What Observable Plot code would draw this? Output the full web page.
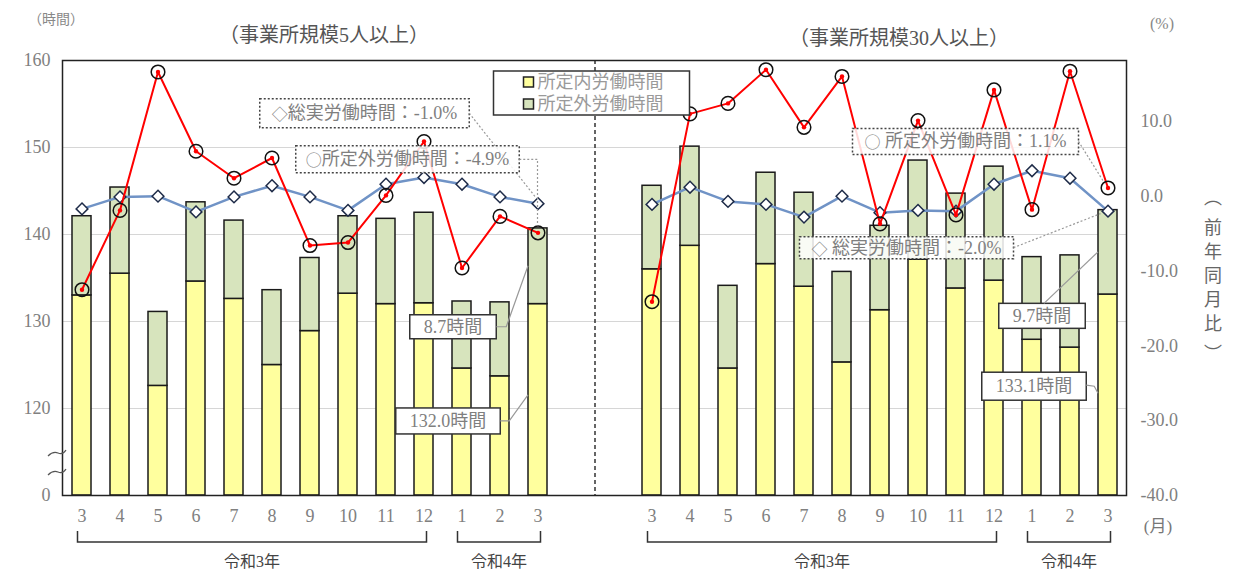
<!DOCTYPE html>
<html><head><meta charset="utf-8">
<script src="https://cdn.jsdelivr.net/npm/d3@7"></script>
<script src="https://cdn.jsdelivr.net/npm/@observablehq/plot@0.6"></script>
<style>
body{margin:0;background:#fff;}
#chart{position:relative;width:1234px;height:570px;}
</style></head><body><div id="chart"></div>
<script>
// ---------------- data ----------------
const months = ["3","4","5","6","7","8","9","10","11","12","1","2","3"];
// 事業所規模5人以上
const sched5 = [133.0,135.5,122.6,134.6,132.6,125.0,128.9,133.2,132.0,132.1,124.6,123.7,132.0];
const over5  = [9.1,9.9,8.5,9.1,9.0,8.6,8.4,8.9,9.8,10.4,7.7,8.5,8.7];
const totPct5  = [-1.7,-0.1,0.0,-2.1,-0.1,1.4,-0.1,-1.9,1.6,2.5,1.6,-0.1,-1.0];
const overPct5 = [-12.5,-1.9,16.6,6.0,2.4,5.1,-6.6,-6.2,0.1,7.3,-9.6,-2.7,-4.9];
// 事業所規模30人以上
const sched30 = [136.0,138.7,124.6,136.6,134.0,125.3,131.3,137.1,133.8,134.7,127.9,127.0,133.1];
const over30  = [9.6,11.4,9.5,10.5,10.8,10.4,9.7,11.4,10.9,13.1,9.5,10.6,9.7];
const totPct30  = [-1.1,1.2,-0.7,-1.1,-2.8,0.0,-2.2,-1.9,-2.0,1.6,3.4,2.4,-2.0];
const overPct30 = [-14.1,11.0,12.4,16.9,9.2,16.0,-3.7,10.1,-2.5,14.2,-1.8,16.7,1.1];

const leftTicks = [0,120,130,140,150,160];
const gridTicks = [120,130,140,150];
const rightTicks = [-40,-30,-20,-10,0,10];
const yearGroups = [{label:"令和3年", from:0, to:9},{label:"令和4年", from:10, to:12}];
const panelTitles = ["（事業所規模5人以上）","（事業所規模30人以上）"];
const legendLabels = ["所定内労働時間","所定外労働時間"];
const seriesNames = {tot:"総実労働時間", over:"所定外労働時間"};

// ---------------- scales setup ----------------
const W = 1234, H = 570, MT = 60, MB = 75, ML = 62, MR = 108;
const Y_MIN = 110, Y_MAX = 160;        // broken axis: "0" sits at Y_MIN
const PCT_MIN = -40, PCT_MAX = 18.13;  // right axis range
const disp = h => h === 0 ? Y_MIN : h;
const pctToY = p => Y_MIN + (p - PCT_MIN) * (Y_MAX - Y_MIN) / (PCT_MAX - PCT_MIN);
const yToPct = y => PCT_MIN + (y - Y_MIN) * (PCT_MAX - PCT_MIN) / (Y_MAX - Y_MIN);

const panels = [
  {id:"L", sched:sched5, over:over5, tot:totPct5, ovp:overPct5},
  {id:"R", sched:sched30, over:over30, tot:totPct30, ovp:overPct30}
];
const keys = [...months.map((m,i)=>"L"+i), "G0", "G1", ...months.map((m,i)=>"R"+i)];
const rows = panels.flatMap(p => months.map((m,i) => ({
  panel:p.id, key:p.id+i, month:m,
  sched:p.sched[i], over:p.over[i], top:p.sched[i]+p.over[i],
  tot:p.tot[i], ovp:p.ovp[i]
})));
const monthOf = Object.fromEntries(rows.map(r => [r.key, r.month]));
const step = (W - ML - MR) / keys.length;

const SERIF = "'Liberation Serif','Noto Sans CJK JP',serif";
const CJK = "'Noto Sans CJK JP',sans-serif";
const TICK = "#808080";

const chart = Plot.plot({
  width: W, height: H,
  marginTop: MT, marginBottom: MB, marginLeft: ML, marginRight: MR,
  style: {fontFamily: SERIF, background: "#fff"},
  x: {type:"band", domain: keys, paddingInner: 0.5, paddingOuter: 0.25},
  y: {domain: [Y_MIN, Y_MAX]},
  marks: [
    Plot.ruleY(gridTicks, {stroke:"#d6d6d6", strokeWidth:1}),
    Plot.ruleX(["G0"], {dx: step/2, stroke:"#333", strokeWidth:1.5, strokeDasharray:"4,3"}),
    Plot.barY(rows, {x:"key", y1: () => disp(0), y2:"sched", fill:"#FFFF9E", stroke:"#1a1a1a", strokeWidth:1.5}),
    Plot.barY(rows, {x:"key", y1:"sched", y2:"top", fill:"#D7E4BD", stroke:"#1a1a1a", strokeWidth:1.5}),
    Plot.line(rows, {x:"key", y: d => pctToY(d.tot), z:"panel", stroke:"#7093C6", strokeWidth:2.5}),
    Plot.dot(rows, {x:"key", y: d => pctToY(d.tot), symbol:"diamond2", r:5.3, fill:"#fff", stroke:"#1E2B48", strokeWidth:1.5}),
    Plot.line(rows, {x:"key", y: d => pctToY(d.ovp), z:"panel", stroke:"#FF0000", strokeWidth:2}),
    Plot.dot(rows, {x:"key", y: d => pctToY(d.ovp), r:2.2, fill:"#FF0000"}),
    Plot.dot(rows, {x:"key", y: d => pctToY(d.ovp), r:6.8, fill:"none", stroke:"#111", strokeWidth:1.5}),
    Plot.frame({stroke:"#222", strokeWidth:1.5}),
    Plot.axisY({anchor:"left", ticks: leftTicks.map(disp), tickFormat: d => d === Y_MIN ? "0" : String(d),
      tickSize:0, tickPadding:12, fontSize:18, fill:TICK, label:null}),
    Plot.axisY({anchor:"right", ticks: rightTicks.map(pctToY), tickFormat: d => (Math.round(yToPct(d)*10)/10).toFixed(1),
      tickSize:0, tickPadding:14, fontSize:18, fill:TICK, label:null}),
    Plot.axisX({ticks: keys.filter(k => k[0] !== "G"), tickFormat: k => monthOf[k],
      tickSize:0, tickPadding:14, fontSize:18, fill:TICK, label:null})
  ]
});
document.getElementById("chart").append(chart);

// ---------------- annotations (positioned from the chart's scales) ----------------
const sx = chart.scale("x"), sy = chart.scale("y");
const bw = sx.bandwidth;
const cx = k => sx.apply(k) + bw/2;
const left = k => sx.apply(k);
const Y = v => sy.apply(v);
const svg = d3.select(chart);
const g = svg.append("g").attr("font-family", SERIF);

function textAt(x, y, s, {size=18, fill="#666", anchor="middle", family=null} = {}) {
  const t = g.append("text").attr("x", x).attr("y", y).attr("text-anchor", anchor)
    .attr("dominant-baseline", "central").attr("font-size", size).attr("fill", fill).text(s);
  if (family) t.attr("font-family", family);
  return t;
}
function path(pts, {stroke="#999", dash="2,2", width=1.2} = {}) {
  g.append("path").attr("d", d3.line()(pts)).attr("fill","none").attr("stroke", stroke)
    .attr("stroke-width", width).attr("stroke-dasharray", dash);
}
function boxLabel(x, y, s, {dashed=false, h=27, pad=12, size=18, symbol=null} = {}) {
  const gg = g.append("g");
  const rect = gg.append("rect");
  const t = gg.append("text").attr("x", x).attr("y", y).attr("text-anchor","middle")
    .attr("dominant-baseline","central").attr("font-size", size).attr("fill","#7f7f7f");
  if (symbol) t.append("tspan").attr("font-family", CJK).attr("font-size", size - 2).text(symbol);
  t.append("tspan").text(s);
  const w = t.node().getComputedTextLength() + 2*pad;
  rect.attr("x", x - w/2).attr("y", y - h/2).attr("width", w).attr("height", h)
    .attr("fill", "#fff").attr("fill-opacity", dashed ? 0.85 : 1)
    .attr("stroke", dashed ? "#444" : "#333").attr("stroke-width", 1.5)
    .attr("stroke-dasharray", dashed ? "2,2" : null);
  return {x0: x - w/2, x1: x + w/2, y0: y - h/2, y1: y + h/2, cy: y, cx: x};
}
const fmt = v => v.toFixed(1);
const last = months.length - 1;

// dotted callouts for year-on-year rates
{
  const tL = {x: cx("L"+last), y: Y(pctToY(totPct5[last]))};
  const b = boxLabel(tL.x - 173, tL.y - 90, `${seriesNames.tot}：${fmt(totPct5[last])}%`, {dashed:true, h:29, pad:12, symbol:"◇"});
  path([[b.x1, b.cy], [tL.x - 2, tL.y - 6]]);
  const oL = {x: cx("L"+last), y: Y(pctToY(overPct5[last]))};
  const b2 = boxLabel(oL.x - 130, oL.y - 73, `${seriesNames.over}：${fmt(overPct5[last])}%`, {dashed:true, h:27, pad:10, symbol:"○"});
  path([[b2.x1, b2.cy], [oL.x, b2.cy], [oL.x, oL.y - 7]]);
  const oR = {x: cx("R"+last), y: Y(pctToY(overPct30[last]))};
  const b3 = boxLabel(oR.x - 142, oR.y - 46, ` ${seriesNames.over}：${fmt(overPct30[last])}%`, {dashed:true, h:26, pad:12, symbol:"○"});
  path([[b3.x1, b3.cy], [oR.x - 4, oR.y - 6]]);
  const tR = {x: cx("R"+last), y: Y(pctToY(totPct30[last]))};
  const b4 = boxLabel(tR.x - 201, tR.y + 37, ` ${seriesNames.tot}：${fmt(totPct30[last])}%`, {dashed:true, h:22, pad:12, symbol:"◇"});
  path([[b4.x1, b4.cy], [tR.x - 7, tR.y + 3]]);
}
// solid callouts for hours of the latest month
{
  const solid = {stroke:"#999", dash:null, width:1.2};
  const oL = {x: left("L"+last), y: Y(sched5[last] + over5[last]/2)};
  const b1 = boxLabel(oL.x - 75, oL.y + 61, `${fmt(over5[last])}時間`, {h:24, pad:14});
  path([[b1.x1, b1.cy], [b1.x1 + 10, b1.cy], [oL.x, oL.y]], solid);
  const sL = {x: left("L"+last), y: Y(121.5)};
  const b2 = boxLabel(sL.x - 80, sL.y + 26, `${fmt(sched5[last])}時間`, {h:26, pad:14});
  path([[b2.x1, b2.cy], [b2.x1 + 9, b2.cy], [sL.x, sL.y]], solid);
  const oR = {x: left("R"+last), y: Y(sched30[last] + over30[last]/2)};
  const b3 = boxLabel(oR.x - 56, oR.y + 64, `${fmt(over30[last])}時間`, {h:25, pad:14});
  path([[oR.x - 54, b3.y0], [oR.x, oR.y]], solid);
  const sR = {x: left("R"+last), y: Y(121.7)};
  const b4 = boxLabel(sR.x - 64, sR.y - 7, `${fmt(sched30[last])}時間`, {h:28, pad:14});
  path([[b4.x1, b4.cy - 1], [b4.x1 + 8, b4.cy], [sR.x, sR.y]], solid);
}

// legend
{
  const lx = cx("G0") + step/2 - 101, ly = MT + 11;
  g.append("rect").attr("x", lx).attr("y", ly).attr("width", 196).attr("height", 44)
    .attr("fill","#fff").attr("stroke","#333").attr("stroke-width",1.5);
  const fills = ["#FFFF9E", "#D7E4BD"];
  legendLabels.forEach((s, i) => {
    const yy = ly + 11 + i*22;
    g.append("rect").attr("x", lx + 30).attr("y", yy - 5).attr("width", 10).attr("height", 10)
      .attr("fill", fills[i]).attr("stroke","#222").attr("stroke-width",1.5);
    textAt(lx + 44, yy, s, {size:18, fill:"#9a9a9a", anchor:"start"});
  });
}

// titles and unit labels
textAt(324, 35, panelTitles[0], {size:20, fill:"#555"});
textAt(899, 38, panelTitles[1], {size:20, fill:"#555"});
textAt(56, 19, "（時間）", {size:14, fill:"#888"});
textAt(1162, 23, "(%)", {size:16, fill:"#888"});
textAt(1158, 526, "(月)", {size:17, fill:"#777"});
{
  const chars = ["前","年","同","月","比"];
  chars.forEach((c, i) => textAt(1213, 226 + i*24, c, {size:18, fill:"#666", family:CJK}));
  textAt(1213, 196, "︵", {size:18, fill:"#666", family:CJK});
  textAt(1213, 352, "︶", {size:18, fill:"#666", family:CJK});
}

// year brackets
["L","R"].forEach(p => {
  yearGroups.forEach(gr => {
    const x0 = cx(p + gr.from) - 4, x1 = cx(p + gr.to) + 3;
    g.append("path").attr("d", d3.line()([[x0, 531], [x0, 542], [x1, 542], [x1, 531]]))
      .attr("fill","none").attr("stroke","#333").attr("stroke-width",1.5);
    textAt((x0 + x1)/2, 561, gr.label, {size:16, fill:"#444"});
  });
});

// axis break marks
[453, 472].forEach(yy => {
  g.append("path").attr("d", `M${ML-14},${yy+3} q5,-5 10,-3 t8,-3`)
    .attr("fill","none").attr("stroke","#555").attr("stroke-width",1.2);
});
</script></body></html>
